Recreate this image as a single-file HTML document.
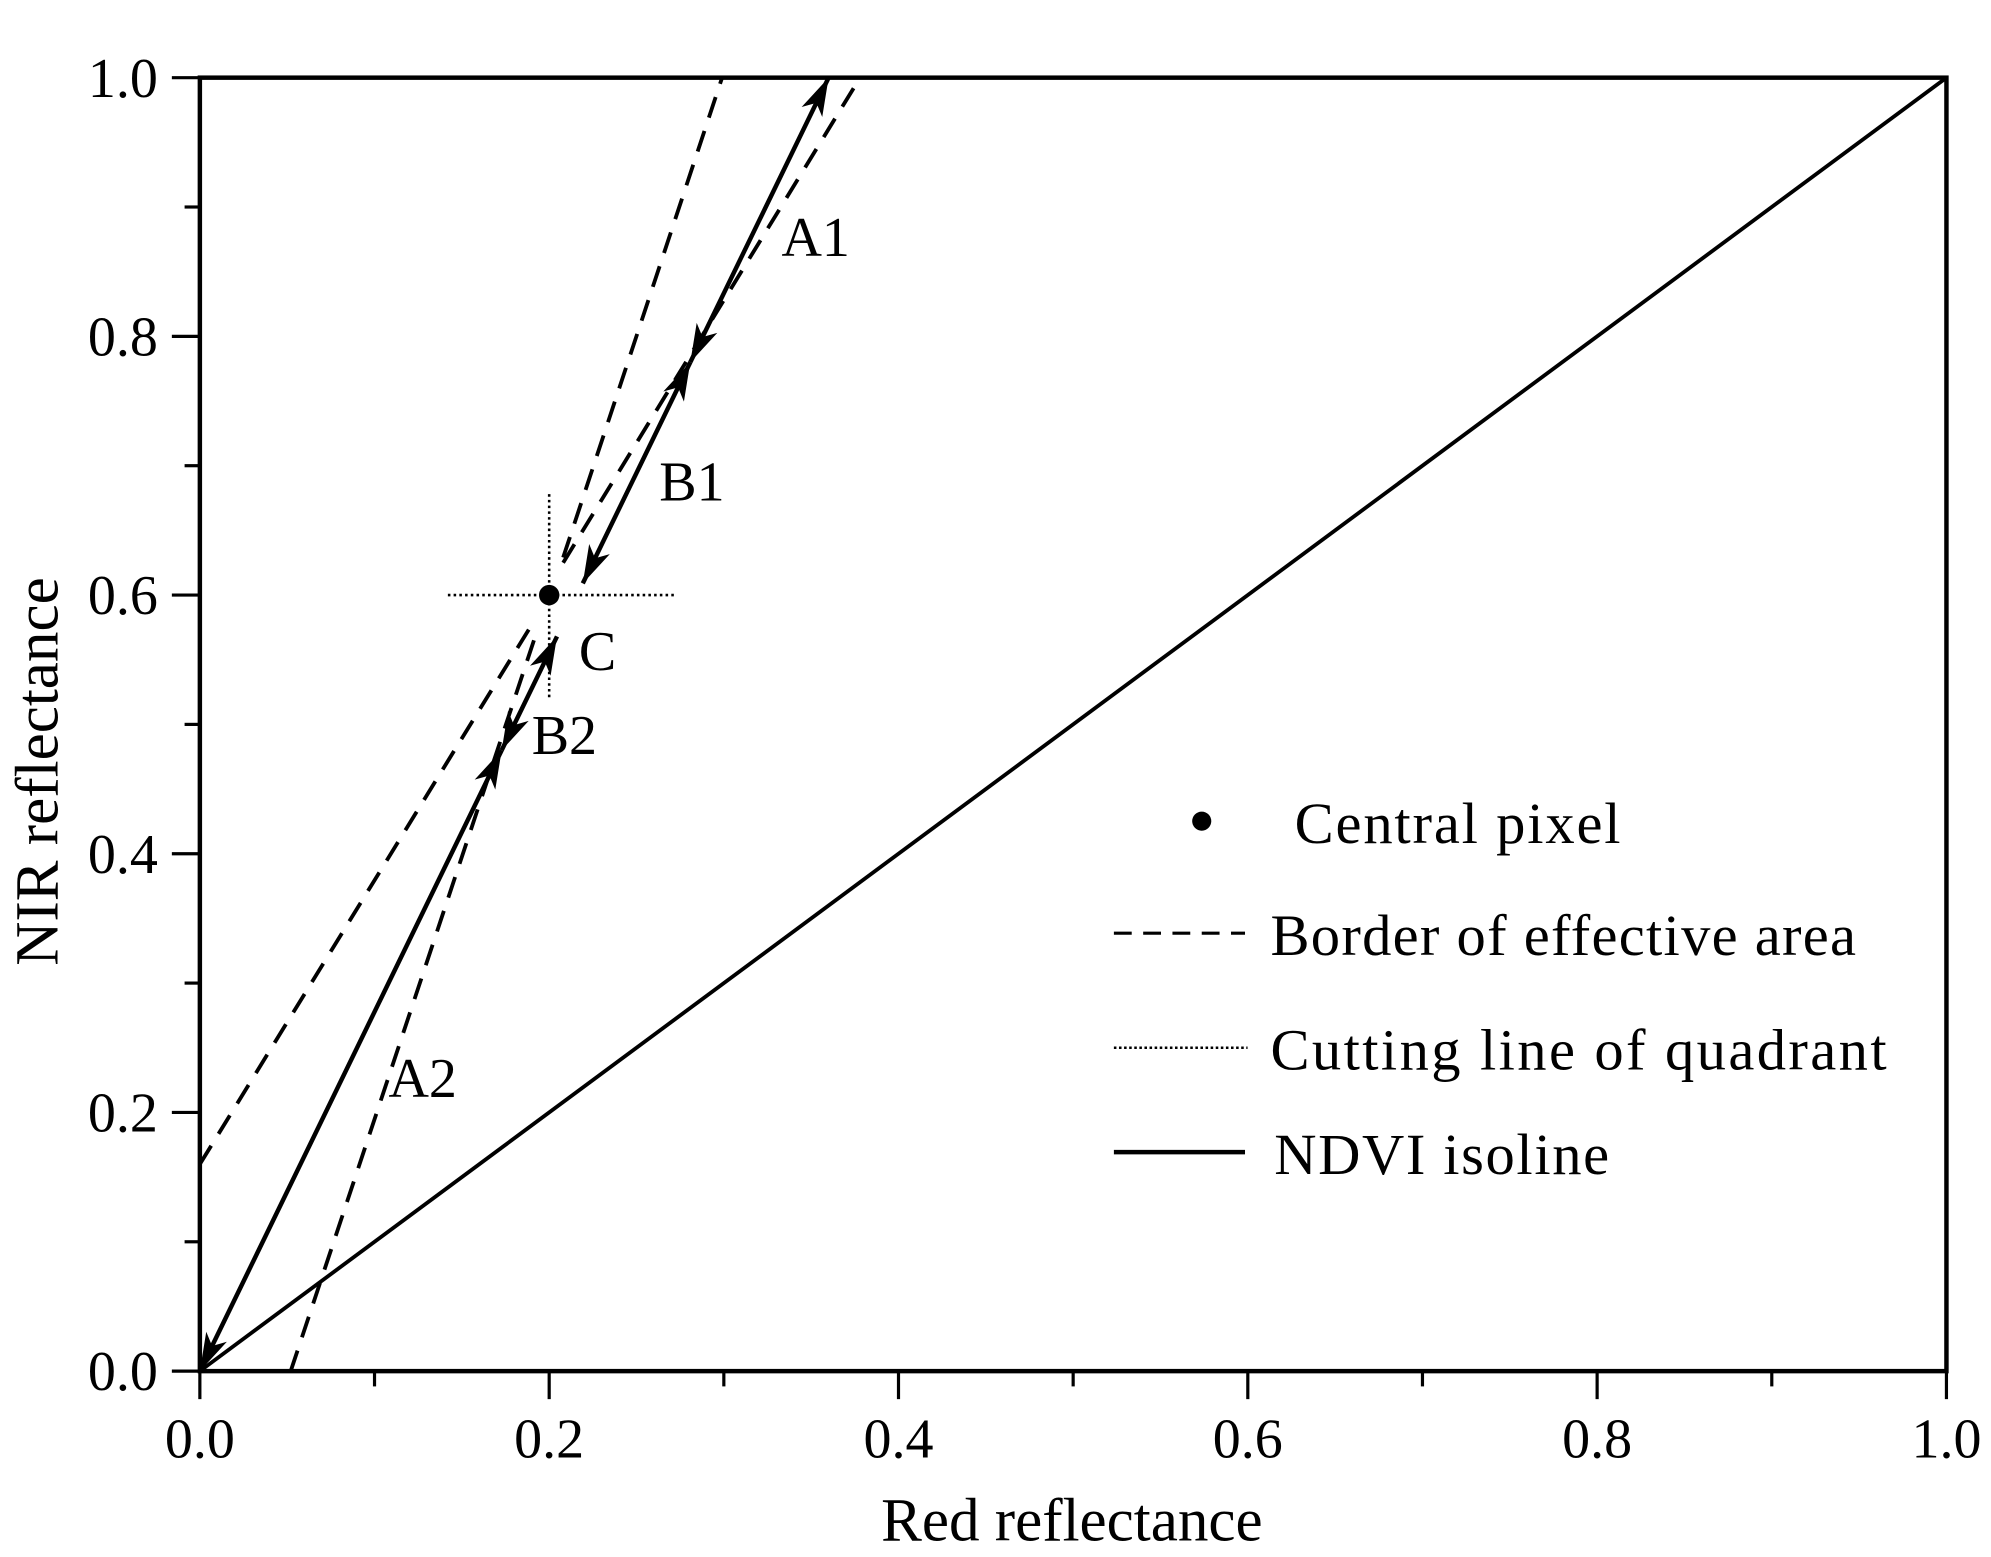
<!DOCTYPE html>
<html><head><meta charset="utf-8"><style>
html,body{margin:0;padding:0;background:#fff;}
svg{display:block;}
text{font-family:"Liberation Serif",serif;fill:#000;}
</style></head><body>
<svg id="chart" width="1991" height="1557" viewBox="0 0 1564 1223" preserveAspectRatio="none" xmlns="http://www.w3.org/2000/svg">
<g id="plot"></g>
<text x="842" y="1210" font-size="48" text-anchor="middle">Red reflectance</text>
<text transform="translate(45,606) rotate(-90)" font-size="48" text-anchor="middle">NIR reflectance</text>
<g>
<circle cx="944" cy="645" r="7.5"/>
<text x="1017" y="662" font-size="46" textLength="256">Central pixel</text>
<line x1="875" y1="733" x2="978" y2="733" stroke="#000" stroke-width="2.5" stroke-dasharray="14,9"/>
<text x="998" y="750" font-size="46" textLength="460">Border of effective area</text>
<line x1="875" y1="823" x2="980" y2="823" stroke="#000" stroke-width="2" stroke-dasharray="2,2"/>
<text x="998" y="840" font-size="46" textLength="484">Cutting line of quadrant</text>
<line x1="875" y1="905" x2="978" y2="905" stroke="#000" stroke-width="3.5"/>
<text x="1001" y="922" font-size="46" textLength="263">NDVI isoline</text>
</g>
</svg>
<script>
const xTicks = [0.0, 0.2, 0.4, 0.6, 0.8, 1.0];
const yTicks = [0.0, 0.2, 0.4, 0.6, 0.8, 1.0];
const tickLabels = ["0.0", "0.2", "0.4", "0.6", "0.8", "1.0"];
const minorTicks = [0.1, 0.3, 0.5, 0.7, 0.9];
const diagonalLine = [[0, 0], [1, 1]];
const borderLines = [
  [[0, 0.16], [0.19, 0.577]],
  [[0.052, 0], [0.193, 0.572]],
  [[0.208, 0.629], [0.299, 1.0]],
  [[0.208, 0.625], [0.378, 1.0]]
];
const ndviSlopeEnd = [0.36, 1.0];
const segmentBreaks = [[0, 0.48], [0.48, 0.568], [0.609, 0.78], [0.78, 1.0]];
const centralPixel = [0.2, 0.6];
const cutH = [[0.142, 0.6], [0.272, 0.6]];
const cutV = [[0.2, 0.678], [0.2, 0.519]];
const pointLabels = ["A1", "B1", "C", "B2", "A2"];
const pointLabelPos = [[0.333, 0.865], [0.263, 0.676], [0.217, 0.545], [0.19, 0.48], [0.108, 0.215]];

const X0 = 157, X1 = 1529, Y0 = 1077, Y1 = 61;
const sx = v => X0 + v * (X1 - X0);
const sy = v => Y0 - v * (Y0 - Y1);
const NS = "http://www.w3.org/2000/svg";
const g = document.getElementById("plot");
function mk(tag, attrs, parent) {
  const e = document.createElementNS(NS, tag);
  for (const k in attrs) e.setAttribute(k, attrs[k]);
  (parent || g).appendChild(e);
  return e;
}
function line(p, q, extra) {
  return mk("line", Object.assign({x1: sx(p[0]), y1: sy(p[1]), x2: sx(q[0]), y2: sy(q[1]), stroke: "#000"}, extra));
}
let fr = mk("rect", {x: X0, y: Y1, width: X1 - X0, height: Y0 - Y1, fill: "none", stroke: "#000", "stroke-width": 3.5});


xTicks.forEach((v, i) => {
  const t = mk("line", {x1: sx(v), y1: Y0, x2: sx(v), y2: Y0 + 22, stroke: "#000", "stroke-width": 2.5});
  
  
  const l = mk("text", {x: sx(v), y: Y0 + 68, "font-size": 44, "text-anchor": "middle"});
  l.textContent = tickLabels[i];
  
  
});
yTicks.forEach((v, i) => {
  const t = mk("line", {x1: X0 - 22, y1: sy(v), x2: X0, y2: sy(v), stroke: "#000", "stroke-width": 2.5});
  
  
  const l = mk("text", {x: X0 - 33, y: sy(v) + 15, "font-size": 44, "text-anchor": "end"});
  l.textContent = tickLabels[i];
  
  
});
minorTicks.forEach(v => {
  const a = mk("line", {x1: sx(v), y1: Y0, x2: sx(v), y2: Y0 + 12, stroke: "#000", "stroke-width": 2.5});
  
  
  const b = mk("line", {x1: X0 - 12, y1: sy(v), x2: X0, y2: sy(v), stroke: "#000", "stroke-width": 2.5});
  
  
});
let d = line(diagonalLine[0], diagonalLine[1], {"stroke-width": 3});


borderLines.forEach(b => {
  const e = line(b[0], b[1], {"stroke-width": 3, "stroke-dasharray": "17,11"});
  
  
});
[cutH, cutV].forEach(c => {
  const e = line(c[0], c[1], {"stroke-width": 2, "stroke-dasharray": "2,2.5"});
  
  
});
const ptAt = y => [ndviSlopeEnd[0] * y / ndviSlopeEnd[1], y];
function arrow(tip, from) {
  const tx = sx(tip[0]), ty = sy(tip[1]), fx = sx(from[0]), fy = sy(from[1]);
  const L = Math.hypot(tx - fx, ty - fy), ux = (tx - fx) / L, uy = (ty - fy) / L;
  const bx = tx - ux * 30, by = ty - uy * 30, px = -uy * 9, py = ux * 9;
  const a = mk("polygon", {points: `${tx},${ty} ${bx + px},${by + py} ${tx - ux * 22},${ty - uy * 22} ${bx - px},${by - py}`, fill: "#000"});
  
  
}
segmentBreaks.forEach(s => {
  const p = ptAt(s[0]), q = ptAt(s[1]);
  const e = line(p, q, {"stroke-width": 3.5});
  
  
  arrow(p, q);
  arrow(q, p);
});
let c = mk("circle", {cx: sx(centralPixel[0]), cy: sy(centralPixel[1]), r: 8, fill: "#000"});


pointLabels.forEach((t, i) => {
  const e = mk("text", {x: sx(pointLabelPos[i][0]), y: sy(pointLabelPos[i][1]) + 3, "font-size": 44});
  e.textContent = t;
  
  
});
</script>
</body></html>
